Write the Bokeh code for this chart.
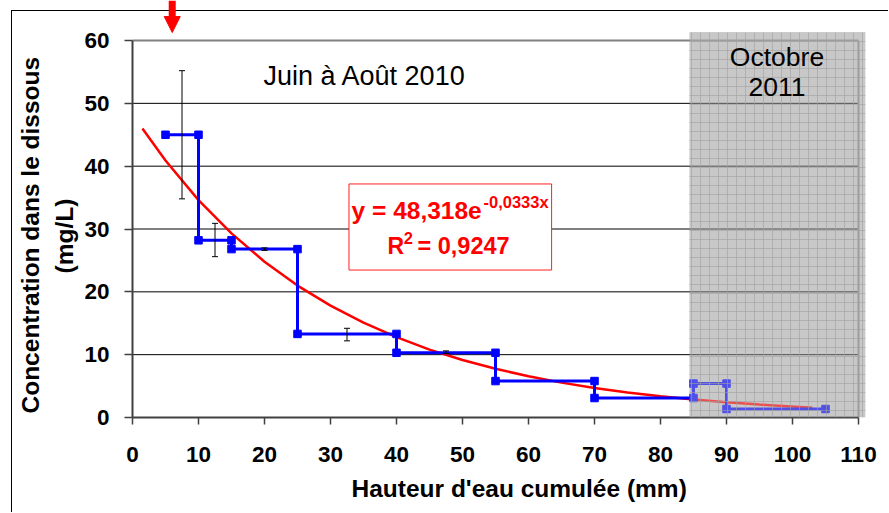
from bokeh.plotting import figure
from bokeh.models import (Range1d, Label, Arrow, NormalHead, Whisker, TeeHead, Title,
                          ColumnDataSource, FixedTicker, BoxAnnotation)
from bokeh.embed import file_html
from bokeh.resources import INLINE

# ---------------- data ----------------
step_x = [5, 10, 10, 15, 15, 25, 25, 40, 40, 55, 55, 70, 70, 85, 85, 90, 90, 105]
step_y = [45, 45, 28.2, 28.2, 26.8, 26.8, 13.3, 13.3, 10.3, 10.3, 5.8, 5.8,
          3.1, 3.1, 5.4, 5.4, 1.35, 1.35]
err_x = [7.5, 12.5, 20, 32.5, 47.5]
err_lo = [34.8, 25.6, 26.6, 12.2, 10.2]
err_hi = [55.2, 30.9, 27.0, 14.2, 10.6]
fit_x = [1.5, 5, 10, 15, 20, 25, 30, 35, 40, 45, 50, 55, 60, 65, 70, 75, 80, 85, 90, 95, 103]
fit_y = [46.0, 40.9, 34.6, 29.3, 24.8, 21.0, 17.8, 15.1, 12.8, 10.8, 9.15, 7.75,
         6.56, 5.55, 4.70, 3.98, 3.37, 2.85, 2.41, 2.05, 1.56]
x_ticks = [0, 10, 20, 30, 40, 50, 60, 70, 80, 90, 100, 110]
y_ticks = [0, 10, 20, 30, 40, 50, 60]
grid_y = [10, 20, 30, 40, 50]
oct_period = (84.4, 111.06)
oct_top = 61.27

FONT = "Liberation Sans"

p = figure(width=877, height=512, x_range=Range1d(0, 111.06), y_range=Range1d(0, 66.37),
           output_backend="svg", toolbar_location=None,
           min_border_left=121, min_border_top=0, min_border_right=23, min_border_bottom=95)
p.margin = (0, 0, 0, 11)
p.styles = {"background": "linear-gradient(#000, #000) 0 10px / 100% 1px no-repeat, "
                          "linear-gradient(#000, #000) 0 10px / 1px 100% no-repeat"}
p.border_fill_color = None
p.background_fill_color = None
p.outline_line_color = None
p.xgrid.visible = False
p.ygrid.visible = False

# white plot-area background (so the outer frame line does not show through)
p.quad(left=[x_ticks[0]], right=[oct_period[0]], bottom=[0], top=[y_ticks[-1]],
       fill_color="white", line_color=None)
# grey background of October 2011 period (below grid)
p.quad(left=[oct_period[0]], right=[oct_period[1]], bottom=[0], top=[oct_top],
       fill_color="#c8c8c8", line_color=None)

# horizontal grid lines
p.segment(x0=[x_ticks[0]] * len(grid_y), x1=[x_ticks[-1]] * len(grid_y), y0=grid_y, y1=grid_y,
          line_color="black", line_width=1)
# frame top / right border
p.segment(x0=[x_ticks[0], x_ticks[-1]], x1=[x_ticks[-1], x_ticks[-1]],
          y0=[y_ticks[-1], y_ticks[0]], y1=[y_ticks[-1], y_ticks[-1]],
          line_color="#808080", line_width=2)

# equation box
p.quad(left=[32.8], right=[63.5], bottom=[23.47], top=[37.17],
       fill_color="white", line_color="#ff2020", line_width=1)

# fitted curve
p.line(fit_x, fit_y, line_color="#ff0000", line_width=2.5)
# step data
p.line(step_x, step_y, line_color="#0000ff", line_width=3)
p.scatter(step_x, step_y, marker="square", size=7.5, color="#0000ff")

# error bars
src = ColumnDataSource(dict(x=err_x, lo=err_lo, hi=err_hi))
p.add_layout(Whisker(source=src, base="x", lower="lo", upper="hi", dimension="height",
                     line_color="black", line_width=1, level="annotation",
                     upper_head=TeeHead(size=6, line_color="black", line_width=1),
                     lower_head=TeeHead(size=6, line_color="black", line_width=1)))

# translucent hatched overlay on October 2011
p.add_layout(BoxAnnotation(left=oct_period[0], right=oct_period[1], bottom=0, top=oct_top,
                           fill_color="#c8c8c8", fill_alpha=0.4, line_color=None,
                           hatch_pattern="+", hatch_color="#a0a0a0", hatch_scale=9,
                           hatch_weight=1, hatch_alpha=0.6))

# axes
for ax, ticks in ((p.xaxis, x_ticks), (p.yaxis, y_ticks)):
    ax.ticker = FixedTicker(ticks=ticks)
    ax.minor_tick_line_color = None
    ax.major_tick_in = 0
    ax.axis_line_color = "#404040"
    ax.axis_line_width = 2
    ax.major_tick_line_color = "#404040"
    ax.major_tick_line_width = 1.5
    ax.major_label_text_font = FONT
    ax.major_label_text_font_style = "bold"
    ax.major_label_text_font_size = "22.5px"
    ax.major_label_text_color = "black"
p.xaxis.bounds = (x_ticks[0], x_ticks[-1])
p.yaxis.bounds = (y_ticks[0], y_ticks[-1])
p.xaxis.major_tick_out = 7
p.yaxis.major_tick_out = 8
p.xaxis.major_label_standoff = 22
p.yaxis.major_label_standoff = 15

# y axis title (two lines, nearest line first)
ytitle = dict(text_font=FONT, text_font_style="bold", text_font_size="24.5px",
              text_color="black", align="left")
p.add_layout(Title(text="(mg/L)", offset=144, standoff=8, **ytitle), "left")
p.add_layout(Title(text="Concentration dans le dissous", offset=4, standoff=2, **ytitle), "left")

# x axis title
p.add_layout(Title(text="Hauteur d'eau cumulée (mm)", align="left", offset=219,
                   text_font=FONT, text_font_style="bold", text_font_size="24.5px",
                   text_color="black", standoff=17), "below")

# period labels
p.add_layout(Label(x=35.2, y=54.4, text="Juin à Août 2010", text_font=FONT,
                   text_font_size="27px", text_align="center", text_baseline="alphabetic",
                   text_color="black"))
p.add_layout(Label(x=97.65, y=57.3, text="Octobre", text_font=FONT,
                   text_font_size="26.5px", text_align="center", text_baseline="alphabetic",
                   text_color="black"))
p.add_layout(Label(x=97.65, y=52.55, text="2011", text_font=FONT,
                   text_font_size="26.5px", text_align="center", text_baseline="alphabetic",
                   text_color="black"))

# equation texts
eq = dict(text_font=FONT, text_font_style="bold", text_color="#ff0000",
          text_align="left", text_baseline="alphabetic")
p.add_layout(Label(x=33.2, y=32.9, text="y = 48,318e", text_font_size="24.5px", **eq))
p.add_layout(Label(x=53.18, y=34.3, text="-0,0333x", text_font_size="16.5px", **eq))
p.add_layout(Label(x=38.64, y=27.35, text="R", text_font_size="23px", **eq))
p.add_layout(Label(x=41.1, y=28.6, text="2", text_font_size="16.5px", **eq))
p.add_layout(Label(x=43.18, y=27.35, text="= 0,9247", text_font_size="23.5px", **eq))

# red arrow at top
p.add_layout(Arrow(x_start=6.02, y_start=66.37, x_end=6.02, y_end=oct_top,
                   line_color="#ff0000", line_width=7,
                   end=NormalHead(size=16, fill_color="#ff0000", line_color="#ff0000")))

open("out.html", "w").write(file_html(p, INLINE))
